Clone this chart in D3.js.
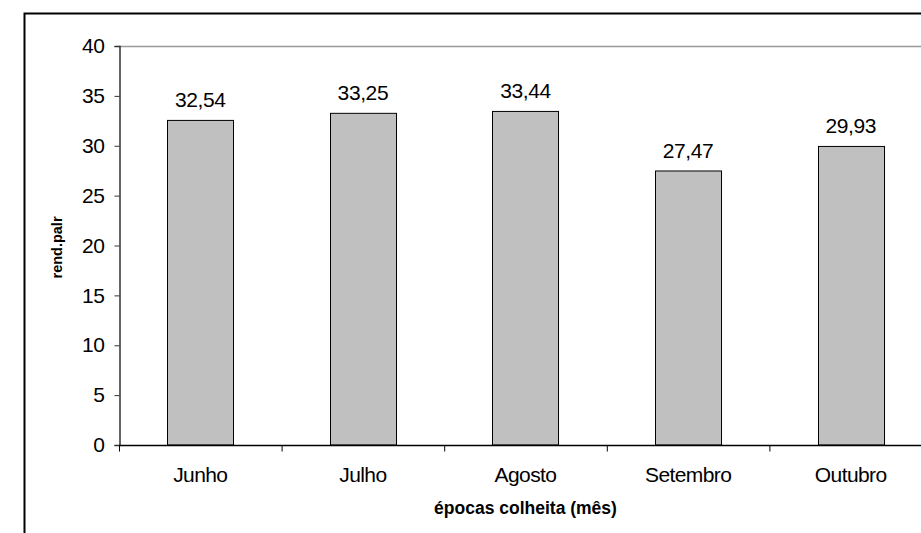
<!DOCTYPE html>
<html>
<head>
<meta charset="utf-8">
<script src="https://d3js.org/d3.v7.min.js"></script>
<style>
  html, body { margin: 0; padding: 0; background: #fff; overflow: hidden; }
  svg { display: block; }
  text { font-family: "Liberation Sans", Arial, sans-serif; fill: #000; }
</style>
</head>
<body>
<svg id="chart" width="921" height="533"></svg>
<script>
// Rendimento por época de colheita
const months = ["Junho", "Julho", "Agosto", "Setembro", "Outubro"];
const values = [32.54, 33.25, 33.44, 27.47, 29.93];
const yTicks = [0, 5, 10, 15, 20, 25, 30, 35, 40];
const xTitle = "épocas colheita (mês)";
const yTitle = "rend.palr";

const svg = d3.select("#chart");

// plot area (the frame runs past the right edge of the window)
const plotL = 119, plotR = 932, plotT = 46, plotB = 445;

const x = d3.scaleBand().domain(months).range([plotL, plotR]).paddingInner(0.594).paddingOuter(0.297);
const y = d3.scaleLinear().domain([0, 40]).range([plotB, plotT]);

// outer chart frame
svg.append("rect")
  .attr("x", 24.5).attr("y", 13.5)
  .attr("width", 1000).attr("height", 600)
  .attr("fill", "none").attr("stroke", "#000").attr("stroke-width", 2);

// top edge of the plot area
svg.append("line")
  .attr("x1", plotL).attr("x2", plotR)
  .attr("y1", y(40) + 0.5).attr("y2", y(40) + 0.5)
  .attr("stroke", "#999").attr("stroke-width", 1.5);

// bars
svg.append("g").selectAll("rect")
  .data(months)
  .join("rect")
  .attr("x", d => Math.round(x(d)) + 0.5)
  .attr("y", (d, i) => y(values[i]))
  .attr("width", x.bandwidth())
  .attr("height", (d, i) => y(0) - y(values[i]))
  .attr("fill", "#c0c0c0")
  .attr("stroke", "#000").attr("stroke-width", 1);

// value labels
const fmt = v => v.toFixed(2).replace(".", ",");
svg.append("g").selectAll("text")
  .data(months)
  .join("text")
  .attr("x", d => x(d) + x.bandwidth() / 2)
  .attr("y", (d, i) => y(values[i]) - 13)
  .attr("text-anchor", "middle")
  .attr("font-size", 21)
  .attr("letter-spacing", -0.4)
  .text((d, i) => fmt(values[i]));

// y axis
const yAxis = d3.axisLeft(y).tickValues(yTicks).tickSize(5).tickPadding(10).tickFormat(d3.format("d"));
const gy = svg.append("g").attr("transform", `translate(${plotL + 0.5},0)`).call(yAxis);
gy.select(".domain").attr("stroke", "#333").attr("stroke-width", 1.5);
gy.selectAll(".tick line").attr("stroke", "#333");
gy.selectAll(".tick text").attr("font-size", 21).attr("font-family", "Liberation Sans, Arial, sans-serif")
  .attr("fill", "#000").attr("letter-spacing", -0.4);

// x axis: ticks sit on the category boundaries
const gx = svg.append("g").attr("transform", `translate(0,${plotB + 0.5})`);
gx.append("line").attr("x1", plotL).attr("x2", plotR).attr("stroke", "#000").attr("stroke-width", 1.5);
const step = x.step();
gx.selectAll("line.tk")
  .data(d3.range(months.length + 1))
  .join("line").attr("class", "tk")
  .attr("x1", i => plotL + i * step + 0.5).attr("x2", i => plotL + i * step + 0.5)
  .attr("y1", 0).attr("y2", 6)
  .attr("stroke", "#000");
gx.selectAll("text")
  .data(months)
  .join("text")
  .attr("x", d => x(d) + x.bandwidth() / 2)
  .attr("y", 36.5)
  .attr("text-anchor", "middle")
  .attr("font-size", 21)
  .attr("letter-spacing", -0.6)
  .text(d => d);

// axis titles
svg.append("text")
  .attr("x", (plotL + plotR) / 2).attr("y", 514)
  .attr("text-anchor", "middle")
  .attr("font-size", 17.5).attr("font-weight", "bold")
  .text(xTitle);

svg.append("text")
  .attr("transform", `translate(62,${(plotT + plotB) / 2 + 2}) rotate(-90)`)
  .attr("text-anchor", "middle")
  .attr("font-size", 14.5).attr("font-weight", "bold")
  .text(yTitle);
</script>
</body>
</html>
